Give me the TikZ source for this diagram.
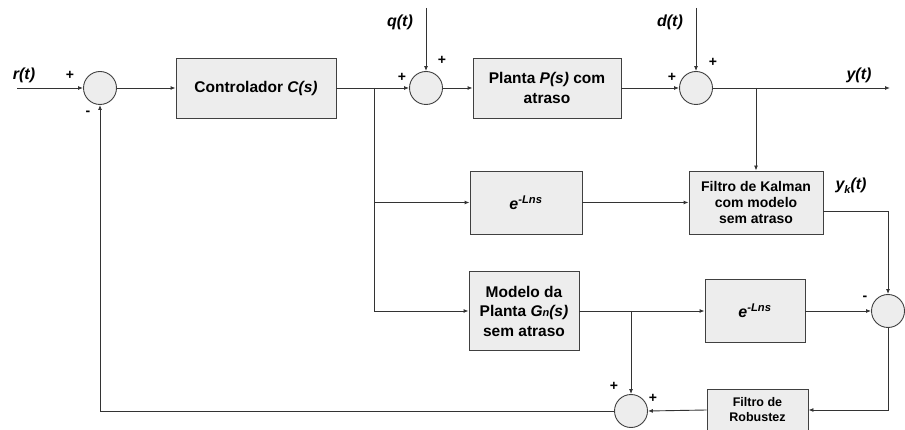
\documentclass[tikz,border=0pt]{standalone}
\usepackage{fontspec}
\setmainfont{Liberation Sans}
\usetikzlibrary{arrows.meta}
\begin{document}
\begin{tikzpicture}[x=1pt,y=-1pt,
  blk/.style={draw=black!75, fill=black!7, line width=0.9pt, inner sep=0pt, align=center},
  big/.style={font=\fontsize{15.5}{19.5}\selectfont\bfseries},
  mid/.style={font=\fontsize{14}{16}\selectfont\bfseries},
  sml/.style={font=\fontsize{12.5}{15}\selectfont\bfseries},
  sumc/.style={circle, draw=black!75, fill=black!7, line width=0.9pt, minimum size=33pt, inner sep=0pt},
  con/.style={draw=black!80, line width=0.9pt, -{Latex[length=5pt,width=4pt]}},
  ln/.style={draw=black!80, line width=0.9pt},
  sig/.style={font=\fontsize{16}{18}\selectfont\bfseries\itshape},
  sgn/.style={font=\fontsize{14}{16}\selectfont\bfseries}]
\useasboundingbox (0,0) rectangle (905,430);

% summing junctions
\node[sumc] (s1) at (100,88) {};
\node[sumc] (s2) at (426,88) {};
\node[sumc] (s3) at (696,88) {};
\node[sumc] (s4) at (888,311) {};
\node[sumc] (s5) at (631,411) {};

% blocks
\node[blk,big,minimum width=160pt,minimum height=60pt] (C) at (256,88) {Controlador \textit{C(s)}};
\node[blk,big,minimum width=148pt,minimum height=60pt] (P) at (547,88) {Planta \textit{P(s)} com\\atraso};
\node[blk,minimum width=112pt,minimum height=63pt,font=\fontsize{16}{18}\selectfont\bfseries\itshape] (E1) at (526,202.5) {e\textsuperscript{-Lns}};
\node[blk,mid,minimum width=134pt,minimum height=63pt] (K) at (756,202.5) {Filtro de Kalman\\com modelo\\sem atraso};
\node[blk,big,minimum width=110pt,minimum height=79pt] (M) at (524,311) {Modelo da\\Planta \textit{G}{\fontsize{11}{12}\selectfont\textit{n}}\textit{(s)}\\sem atraso};
\node[blk,minimum width=100pt,minimum height=63pt,font=\fontsize{16}{18}\selectfont\bfseries\itshape] (E2) at (755,311) {e\textsuperscript{-Lns}};
\node[blk,sml,minimum width=101pt,minimum height=42pt] (R) at (757.5,410) {Filtro de\\Robustez};

% free ends and branch points
\coordinate (rin) at (17,88);
\coordinate (qin) at (426,8);
\coordinate (din) at (696,8);
\coordinate (yout) at (890,88);
\coordinate (b1) at (374,88);
\coordinate (b2) at (756,88);
\coordinate (b4) at (374,311);
\coordinate (b5) at (374,202.5);
\coordinate (b3) at (631,311);

% connectors
\draw[con] (rin) -- (s1.west);
\draw[con] (s1.east) -- (C.west);
\draw[ln] (C.east) -- (b1);
\draw[con] (b1) -- (s2.west);
\draw[con] (qin) -- (s2.north);
\draw[con] (s2.east) -- (P.west);
\draw[con] (P.east) -- (s3.west);
\draw[con] (din) -- (s3.north);
\draw[con] (s3.east) -- (yout);
\draw[con] (b2) -- (K.north);
\draw[ln] (b1) -- (b4);
\draw[con] (b5) -- (E1.west);
\draw[con] (b4) -- (M.west);
\draw[con] (E1.east) -- (K.west);
\draw[con] ([yshift=-9pt]K.east) -| (s4.north);
\draw[ln] (M.east) -- (b3);
\draw[con] (b3) -- (E2.west);
\draw[con] (b3) -- (s5.north);
\draw[con] (E2.east) -- (s4.west);
\draw[con] (s4.south) |- (R.east);
\draw[con] (R.west) -- (s5.east);
\draw[con] (s5.west) -| (s1.south);

% signal labels
\node[sig] (lr) at (24,75) {r(t)};
\node[sig] (lq) at (400,22) {q(t)};
\node[sig] (ld) at (670,22) {d(t)};
\node[sig] (ly) at (859,75) {y(t)};
\node[sig] (lyk) at (851,186) {y\raisebox{-4pt}{\fontsize{11}{12}\selectfont k}(t)};

% signs
\node[sgn] (p1) at (70,75) {+};
\node[sgn] (m1) at (88,113) {-};
\node[sgn] (p2) at (402,77) {+};
\node[sgn] (p3) at (442,60) {+};
\node[sgn] (p4) at (672,77) {+};
\node[sgn] (p5) at (713,62) {+};
\node[sgn] (m2) at (865,298) {-};
\node[sgn] (p6) at (614,386) {+};
\node[sgn] (p7) at (653,398) {+};
\end{tikzpicture}
\end{document}
